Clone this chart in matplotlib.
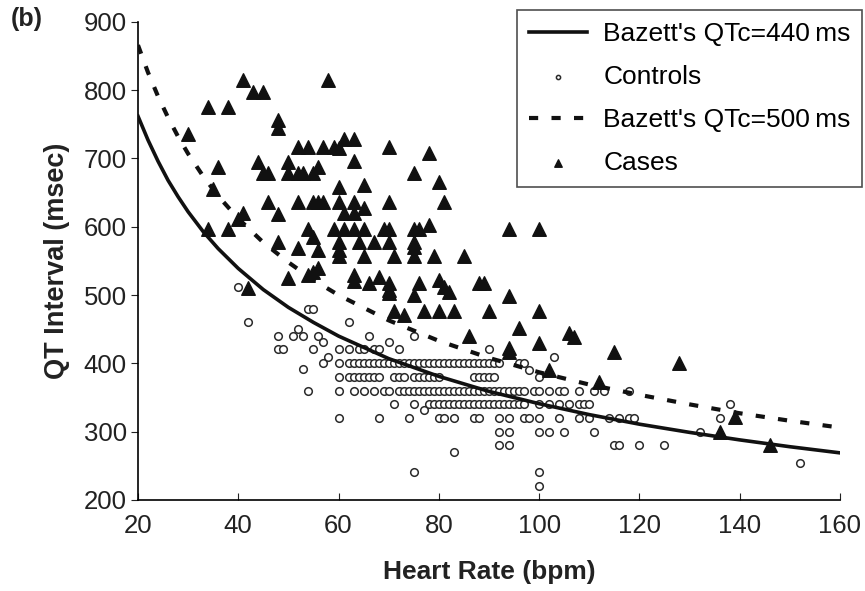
import numpy as np
import matplotlib
matplotlib.use("Agg")
import matplotlib.pyplot as plt

plt.rcParams["font.family"] = ["Liberation Sans", "DejaVu Sans"]

# Bazett curves, values (QT in msec at given heart rate)
hr_curve = [20, 22, 24, 26, 28, 30, 33, 36, 40, 45, 50, 55, 60, 70, 80, 90,
            100, 110, 120, 130, 140, 150, 160]
qt_440 = [762, 727, 696, 668, 644, 622, 593, 568, 539, 508, 482, 460, 440, 407,
          381, 359, 341, 325, 311, 299, 288, 278, 269]
qt_500 = [866, 826, 791, 760, 732, 707, 674, 645, 612, 577, 548, 522, 500, 463,
          433, 408, 387, 369, 354, 340, 327, 316, 306]

# Cases (triangles)
cases_hr = [41, 58, 43, 45, 34, 38, 48, 48, 30, 36, 35, 44, 45, 46, 50, 50, 52, 53,
            55, 56, 52, 54, 57, 59, 60, 61, 63, 70, 78, 63, 75, 80, 81, 60, 65, 46,
            52, 55, 56, 57, 60, 63, 65, 70, 48, 40, 41, 61, 63, 34, 38, 54, 55, 59,
            61, 63, 65, 69, 70, 75, 76, 78, 94, 100, 48, 52, 56, 60, 64, 67, 70, 60,
            60, 65, 71, 75, 75, 75, 79, 85, 50, 54, 55, 56, 63, 63, 66, 68, 70, 70,
            76, 75, 80, 81, 88, 94, 42, 71, 73, 77, 80, 83, 90, 100, 86, 94, 89, 96,
            106, 107, 100, 94, 115, 102, 128, 112, 139, 136, 146, 82, 70]
cases_qt = [815, 815, 797, 797, 776, 776, 757, 745, 736, 688, 655, 695, 679, 679, 695,
            679, 679, 679, 679, 688, 717, 717, 717, 717, 715, 728, 728, 717, 708, 697,
            679, 665, 637, 658, 661, 637, 637, 637, 637, 637, 637, 637, 628, 637, 618,
            612, 620, 620, 620, 597, 597, 597, 585, 597, 597, 597, 597, 597, 597, 597,
            597, 603, 597, 597, 578, 569, 566, 578, 578, 578, 578, 566, 557, 557, 557,
            578, 557, 571, 557, 557, 525, 530, 534, 540, 530, 520, 518, 527, 518, 508,
            518, 500, 522, 512, 518, 499, 510, 477, 471, 477, 477, 477, 477, 477, 440,
            423, 518, 452, 445, 439, 430, 417, 417, 390, 400, 373, 322, 300, 281, 505, 503]

# Controls (open circles), grouped by QT row
controls_rows = {
    512: [40],
    480: [54, 55],
    461: [42, 62],
    450: [52],
    440: [48, 51, 53, 56, 66, 75],
    431: [57, 70],
    421: [48, 49, 55, 60, 62, 64, 65, 67, 68, 72, 90],
    410: [58, 103],
    400: [57, 60, 62, 63, 64, 65, 66, 67, 68, 69, 70, 71, 72, 73, 74, 75, 76, 77, 78,
          79, 80, 81, 82, 83, 84, 85, 86, 87, 88, 89, 90, 91, 92, 96, 97],
    392: [53],
    390: [98],
    380: [60, 62, 63, 64, 65, 66, 67, 68, 71, 72, 73, 75, 76, 77, 78, 79, 80, 87, 88,
          89, 90, 91, 100],
    360: [54, 60, 63, 65, 67, 69, 70, 72, 73, 74, 75, 76, 77, 78, 79, 80, 81, 82, 83,
          84, 85, 86, 87, 88, 89, 90, 91, 92, 93, 94, 95, 96, 97, 99, 100, 102, 104,
          105, 108, 111, 113, 118],
    340: [71, 75, 78, 79, 80, 81, 82, 83, 84, 85, 86, 87, 88, 89, 90, 91, 92, 93, 94,
          95, 96, 97, 100, 102, 104, 106, 108, 109, 110, 138],
    332: [77],
    320: [60, 68, 74, 80, 81, 83, 87, 88, 92, 94, 97, 98, 100, 104, 108, 110, 114,
          116, 118, 119, 136],
    300: [92, 94, 100, 102, 105, 111, 132],
    280: [92, 94, 115, 116, 120, 125],
    270: [83],
    254: [152],
    241: [75, 100],
    221: [100],
}
controls_hr = [x for q, xs in controls_rows.items() for x in xs]
controls_qt = [q for q, xs in controls_rows.items() for x in xs]

fig = plt.figure(figsize=(8.65, 5.91), dpi=100)
ax = fig.add_axes([0.1595, 0.154, 0.8115, 0.809])

ax.plot(hr_curve, qt_440, color="#111111", lw=2.6, label="Bazett's QTc=440\u2009ms", zorder=3)
ax.scatter(controls_hr, controls_qt, s=30, facecolors="white", edgecolors="#2a2a2a",
           linewidths=1.1, label="Controls", zorder=2)
ax.plot(hr_curve, qt_500, color="#111111", lw=3.0, ls=(0, (2.2, 3.2)),
        label="Bazett's QTc=500\u2009ms", zorder=3)
ax.scatter(cases_hr, cases_qt, s=95, marker="^", color="#111111", label="Cases", zorder=4)

ax.set_xlim(20, 160)
ax.set_ylim(200, 900)
ax.set_xticks(range(20, 161, 20))
ax.set_yticks(range(200, 901, 100))
ax.spines["top"].set_visible(False)
ax.spines["right"].set_visible(False)
ax.spines["left"].set_linewidth(1.2)
ax.spines["bottom"].set_linewidth(1.2)
ax.tick_params(axis="x", direction="in", length=5, labelsize=18.5, colors="#222222", pad=10)
ax.tick_params(axis="y", direction="out", length=5, labelsize=18.5, colors="#222222", pad=3)
ax.set_xlabel("Heart Rate (bpm)", fontsize=19, fontweight="bold", color="#222222", labelpad=16)
ax.set_ylabel("QT Interval (msec)", fontsize=19.5, fontweight="bold", color="#222222", labelpad=10)

fig.text(0.013, 0.988, "(b)", fontsize=18, fontweight="bold", va="top", color="#222222")

leg = ax.legend(loc="upper right", bbox_to_anchor=(0.997, 0.983), bbox_transform=fig.transFigure,
                fontsize=19, frameon=True, fancybox=False, edgecolor="#222222",
                handlelength=2.2, handletextpad=0.6, markerscale=0.55, labelspacing=0.72,
                borderpad=0.45, borderaxespad=0)
leg.get_frame().set_linewidth(1.2)

fig.savefig("out.png", dpi=100)
